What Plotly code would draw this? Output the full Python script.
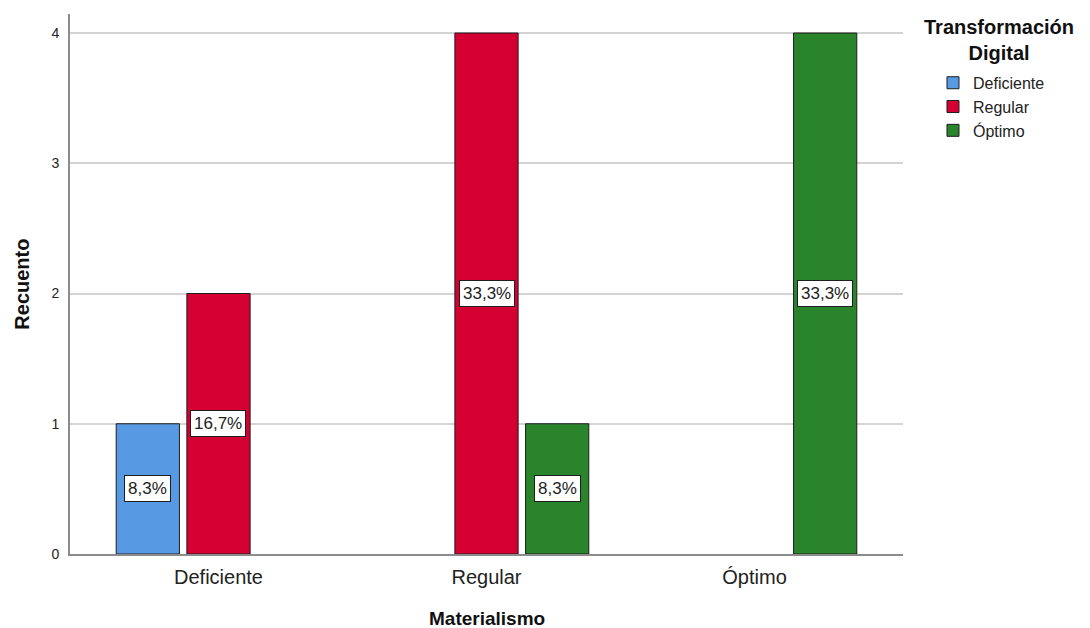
import plotly.graph_objects as go

# Recuento por nivel de Materialismo (eje X) y de Transformación Digital (series)
categorias = ["Deficiente", "Regular", "Óptimo"]
series = ["Deficiente", "Regular", "Óptimo"]
recuento = {
    "Deficiente": [1, None, None],
    "Regular": [2, 4, None],
    "Óptimo": [None, 1, 4],
}
colores = {"Deficiente": "#5899E4", "Regular": "#D40032", "Óptimo": "#2A842B"}
y_ticks = [0, 1, 2, 3, 4]

FONT = "Liberation Sans, Arial, sans-serif"
BARGAP = 0.209
BARGROUPGAP = 0.105

total = sum(v for vals in recuento.values() for v in vals if v)
x_pos = list(range(len(categorias)))

fig = go.Figure()
for s in series:
    fig.add_trace(go.Bar(
        x=x_pos, y=recuento[s], name=s,
        marker=dict(color=colores[s], line=dict(color="#1e1e1e", width=1)),
        hoverinfo="skip",
    ))

# Etiquetas de porcentaje centradas en cada barra
slot = (1 - BARGAP) / len(series)
for j, s in enumerate(series):
    off = (j - (len(series) - 1) / 2) * slot
    for i, v in enumerate(recuento[s]):
        if not v:
            continue
        pct = f"{v / total * 100:.1f}%".replace(".", ",")
        fig.add_annotation(
            x=x_pos[i] + off, y=v / 2, xref="x", yref="y", text=pct,
            showarrow=False, bgcolor="white", bordercolor="#1e1e1e",
            borderwidth=1, borderpad=3,
            font=dict(family=FONT, size=17, color="#222"),
        )

fig.add_annotation(
    x=-0.058, y=0.5, xref="paper", yref="paper", text="<b>Recuento</b>",
    textangle=-90, showarrow=False, xanchor="center", yanchor="middle",
    font=dict(family=FONT, size=20, color="#111"),
)
fig.add_annotation(
    x=0.5, y=-0.142, xref="paper", yref="paper", text="<b>Materialismo</b>",
    showarrow=False, xanchor="center", yanchor="bottom",
    font=dict(family=FONT, size=19, color="#111"),
)
fig.add_annotation(
    x=1.115, y=1.0, xref="paper", yref="paper",
    text="<b>Transformación<br>Digital</b>", showarrow=False,
    xanchor="center", yanchor="top", align="center",
    font=dict(family=FONT, size=20, color="#111"),
)

fig.update_layout(
    width=1090, height=628,
    margin=dict(l=70, r=187, t=14, b=74),
    paper_bgcolor="white", plot_bgcolor="white",
    barmode="group", bargap=BARGAP, bargroupgap=BARGROUPGAP,
    showlegend=True,
    legend=dict(
        x=1.036, y=0.904, xanchor="left", yanchor="top",
        font=dict(family=FONT, size=16, color="#222"),
        tracegroupgap=0, itemwidth=30, bgcolor="rgba(0,0,0,0)",
    ),
    xaxis=dict(
        range=[-0.554, 2.554], tickmode="array", tickvals=x_pos,
        ticktext=categorias, showgrid=False, zeroline=False,
        showline=True, linecolor="#8c8c8c", linewidth=2,
        ticks="", ticklabelstandoff=4,
        tickfont=dict(family=FONT, size=20, color="#222"),
    ),
    yaxis=dict(
        range=[0, 4.146], tickmode="array", tickvals=y_ticks,
        showgrid=True, gridcolor="#d4d4d4", gridwidth=2, zeroline=False,
        showline=True, linecolor="#8c8c8c", linewidth=2,
        ticks="", ticklabelstandoff=6,
        tickfont=dict(family=FONT, size=14, color="#222"),
    ),
    font=dict(family=FONT),
)

fig.write_html("out.html")
